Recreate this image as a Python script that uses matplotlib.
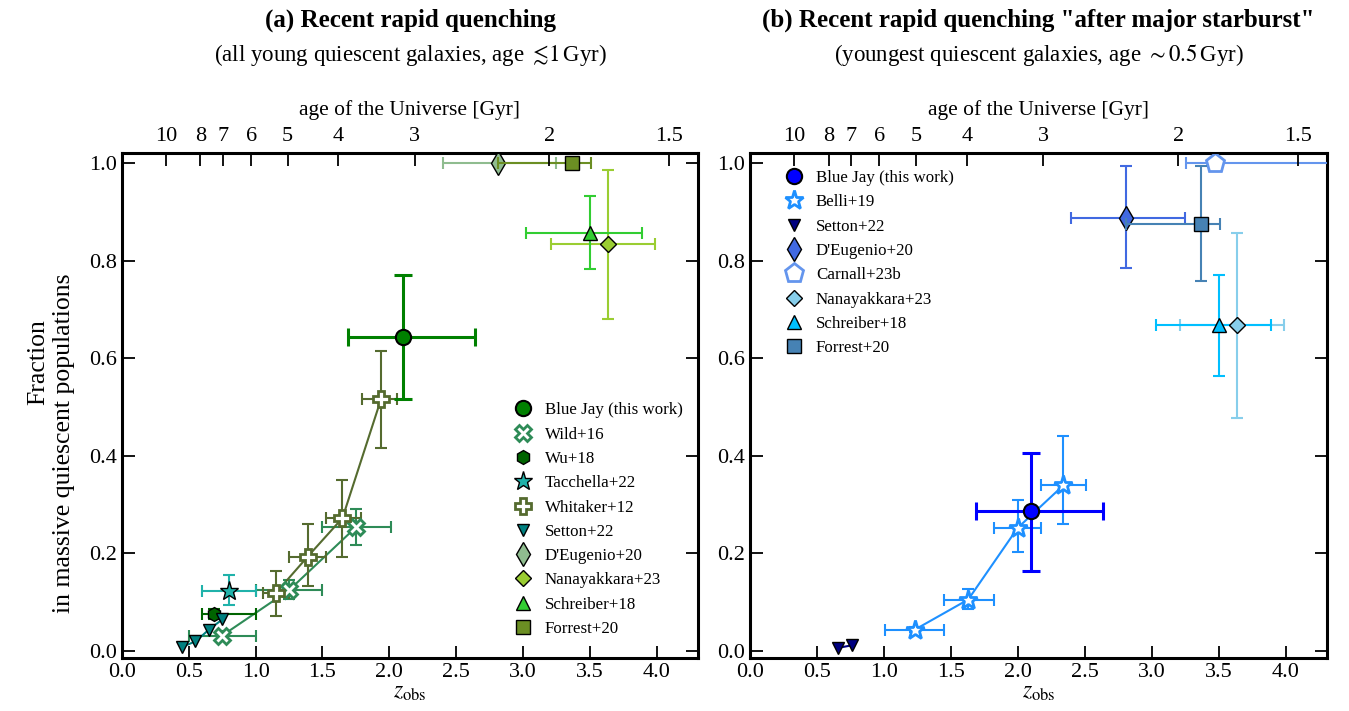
import numpy as np
import matplotlib
matplotlib.use('Agg')
import matplotlib.pyplot as plt
from matplotlib.lines import Line2D

plt.rcParams['font.family'] = ['Liberation Serif', 'DejaVu Serif']
plt.rcParams['mathtext.fontset'] = 'stix'

# ---- data: panel (a), all young quiescent galaxies ----
bj_a_z, bj_a_f = [2.10], [0.643]
bj_a_zerr = [[0.41], [0.54]]
bj_a_ferr = [[0.127], [0.128]]

wild_z = [0.75, 1.25, 1.75]
wild_f = [0.031, 0.124, 0.253]
wild_zerr = [[0.25, 0.25, 0.25], [0.25, 0.25, 0.26]]
wild_ferr = [[0.01, 0.018, 0.036], [0.01, 0.022, 0.037]]

wu_z, wu_f = [0.69], [0.075]
wu_zerr = [[0.09], [0.31]]
wu_ferr = [[0.01], [0.01]]

tac_z, tac_f = [0.80], [0.123]
tac_zerr = [[0.20], [0.20]]
tac_ferr = [[0.029], [0.033]]

whit_z = [1.15, 1.39, 1.65, 1.94]
whit_f = [0.118, 0.193, 0.272, 0.517]
whit_zerr = [[0.095, 0.14, 0.125, 0.145], [0.10, 0.14, 0.14, 0.12]]
whit_ferr = [[0.046, 0.06, 0.079, 0.101], [0.045, 0.067, 0.078, 0.098]]

set_a_z = [0.45, 0.55, 0.65, 0.75]
set_a_f = [0.008, 0.019, 0.043, 0.064]

deu_a_z, deu_a_f = [2.81], [1.0]
deu_a_zerr = [[0.41], [0.44]]

nan_a_z, nan_a_f = [3.64], [0.833]
nan_a_zerr = [[0.43], [0.35]]
nan_a_ferr = [[0.152], [0.152]]

sch_a_z, sch_a_f = [3.50], [0.857]
sch_a_zerr = [[0.48], [0.39]]
sch_a_ferr = [[0.075], [0.075]]

for_a_z, for_a_f = [3.37], [1.0]
for_a_zerr = [[0.56], [0.14]]

# ---- data: panel (b), youngest quiescent galaxies ----
bj_b_z, bj_b_f = [2.10], [0.286]
bj_b_zerr = [[0.41], [0.54]]
bj_b_ferr = [[0.122], [0.119]]

belli_z = [1.23, 1.63, 2.00, 2.34]
belli_f = [0.043, 0.105, 0.252, 0.339]
belli_zerr = [[0.22, 0.18, 0.18, 0.17], [0.22, 0.19, 0.17, 0.17]]
belli_ferr = [[0.005, 0.019, 0.05, 0.079], [0.005, 0.022, 0.058, 0.102]]

set_b_z = [0.66, 0.76]
set_b_f = [0.006, 0.011]

deu_b_z, deu_b_f = [2.81], [0.888]
deu_b_zerr = [[0.41], [0.44]]
deu_b_ferr = [[0.104], [0.105]]

car_z, car_f = [3.47], [1.0]
car_zerr = [[0.21], [1.5]]

nan_b_z, nan_b_f = [3.64], [0.667]
nan_b_zerr = [[0.43], [0.35]]
nan_b_ferr = [[0.19], [0.19]]

sch_b_z, sch_b_f = [3.50], [0.667]
sch_b_zerr = [[0.47], [0.39]]
sch_b_ferr = [[0.103], [0.103]]

for_b_z, for_b_f = [3.37], [0.875]
for_b_zerr = [[0.56], [0.14]]
for_b_ferr = [[0.118], [0.118]]

age_ticks = [10, 8, 7, 6, 5, 4, 3, 2, 1.5]


def z_from_age(t, H0=67.7, Om=0.31):
    # flat LCDM, age in Gyr
    OL = 1 - Om
    A = 2 / (3 * (H0 / 977.8) * np.sqrt(OL))
    B = np.sqrt(OL / Om)
    return (np.sinh(np.asarray(t) / A) / B) ** (-2 / 3) - 1


def point(ax, z, f, zerr=None, ferr=None, marker='o', color='k', face=None,
          ms=10, mew=1.0, line=False, lw=1.5, cap=4.5, label=None, zo=3):
    if zerr is not None or ferr is not None:
        ax.errorbar(z, f, xerr=zerr, yerr=ferr, fmt='none', ecolor=color,
                    elinewidth=lw, capsize=cap, capthick=lw, zorder=zo)
    if line:
        ax.plot(z, f, '-', color=color, lw=1.5, zorder=zo)
    fc = color if face is None else face
    ec = 'k' if face is None else color
    ax.plot(z, f, ls='none', marker=marker, ms=ms, mfc=fc, mec=ec, mew=mew,
            zorder=zo + 0.5)
    return Line2D([], [], ls='none', marker=marker, ms=ms, mfc=fc, mec=ec,
                  mew=mew, label=label)


fig = plt.figure(figsize=(13.49, 7.11), dpi=100)
axa = fig.add_axes([0.0904, 0.0745, 0.427, 0.710])
axb = fig.add_axes([0.556, 0.0745, 0.4277, 0.710])

h = []
h.append(point(axa, bj_a_z, bj_a_f, bj_a_zerr, bj_a_ferr, 'o', 'green',
               ms=11, mew=1.5, lw=2.2, cap=6.5, label='Blue Jay (this work)', zo=10))
h.append(point(axa, wild_z, wild_f, wild_zerr, wild_ferr, 'X', 'seagreen',
               face='white', ms=11, mew=2, line=True, label='Wild+16'))
h.append(point(axa, wu_z, wu_f, wu_zerr, wu_ferr, 'h', 'darkgreen',
               ms=10, label='Wu+18'))
h.append(point(axa, tac_z, tac_f, tac_zerr, tac_ferr, '*', 'lightseagreen',
               ms=14, label='Tacchella+22'))
h.append(point(axa, whit_z, whit_f, whit_zerr, whit_ferr, 'P', 'darkolivegreen',
               face='white', ms=11, mew=2, line=True, label='Whitaker+12'))
h.append(point(axa, set_a_z, set_a_f, None, None, 'v', 'teal',
               ms=9, line=True, label='Setton+22'))
h.append(point(axa, deu_a_z, deu_a_f, deu_a_zerr, None, 'd', 'darkseagreen',
               ms=12, label="D'Eugenio+20"))
h.append(point(axa, nan_a_z, nan_a_f, nan_a_zerr, nan_a_ferr, 'D', 'yellowgreen',
               ms=8, label='Nanayakkara+23'))
h.append(point(axa, sch_a_z, sch_a_f, sch_a_zerr, sch_a_ferr, '^', 'limegreen',
               ms=10, label='Schreiber+18'))
h.append(point(axa, for_a_z, for_a_f, for_a_zerr, None, 's', 'olivedrab',
               ms=10, label='Forrest+20', zo=4))
axa.legend(handles=h, loc='upper left', bbox_to_anchor=(0.655, 0.52),
           frameon=False, fontsize=12.2, handletextpad=0.3, labelspacing=0.49,
           borderaxespad=0)

h = []
h.append(point(axb, bj_b_z, bj_b_f, bj_b_zerr, bj_b_ferr, 'o', 'blue',
               ms=11, mew=1.5, lw=2.2, cap=6.5, label='Blue Jay (this work)', zo=10))
h.append(point(axb, belli_z, belli_f, belli_zerr, belli_ferr, '*', 'dodgerblue',
               face='white', ms=14, mew=2, line=True, label='Belli+19'))
h.append(point(axb, set_b_z, set_b_f, None, None, 'v', 'navy',
               ms=9, line=True, label='Setton+22'))
h.append(point(axb, deu_b_z, deu_b_f, deu_b_zerr, deu_b_ferr, 'd', 'royalblue',
               ms=12, label="D'Eugenio+20"))
h.append(point(axb, car_z, car_f, car_zerr, None, 'p', 'cornflowerblue',
               face='white', ms=14, mew=2, label='Carnall+23b'))
h.append(point(axb, nan_b_z, nan_b_f, nan_b_zerr, nan_b_ferr, 'D', 'skyblue',
               ms=8, label='Nanayakkara+23'))
h.append(point(axb, sch_b_z, sch_b_f, sch_b_zerr, sch_b_ferr, '^', 'deepskyblue',
               ms=10, label='Schreiber+18'))
h.append(point(axb, for_b_z, for_b_f, for_b_zerr, for_b_ferr, 's', 'steelblue',
               ms=10, label='Forrest+20', zo=4))
axb.legend(handles=h, loc='upper left', bbox_to_anchor=(0.035, 0.98),
           frameon=False, fontsize=12.2, handletextpad=0.3, labelspacing=0.49,
           borderaxespad=0)

for ax in (axa, axb):
    ax.set_xlim(0, 4.31)
    ax.set_ylim(-0.015, 1.02)
    ax.set_xticks(np.arange(0, 4.01, 0.5))
    ax.set_yticks(np.arange(0, 1.01, 0.2))
    ax.tick_params(direction='in', length=9, width=1.3, labelsize=16,
                   top=False, right=True)
    for s in ax.spines.values():
        s.set_linewidth(2.2)
    ax.set_xlabel(r'$z_{\rm obs}$', fontsize=17, labelpad=0)
    top = ax.twiny()
    top.set_xlim(ax.get_xlim())
    top.set_xticks(z_from_age(age_ticks))
    top.set_xticklabels(['%g' % a for a in age_ticks])
    top.tick_params(direction='in', length=9, width=1.3, labelsize=16, pad=5)
    top.set_xlabel('age of the Universe [Gyr]', fontsize=15.5, labelpad=9)

# y label: two lines, as laid out in the original
fig.text(0.0282, 0.491, 'Fraction', rotation=90, ha='center', va='center',
         fontsize=18.5)
fig.text(0.0474, 0.377, 'in massive quiescent populations', rotation=90,
         ha='center', va='center', fontsize=18.5)

fig.text(0.304, 0.962, '(a) Recent rapid quenching', ha='center',
         fontsize=18, fontweight='bold')
fig.text(0.304, 0.914,
         r'(all young quiescent galaxies, age $\lesssim\!1\,$Gyr)',
         ha='center', fontsize=16.5)
fig.text(0.770, 0.962, '(b) Recent rapid quenching "after major starburst"',
         ha='center', fontsize=18, fontweight='bold')
fig.text(0.770, 0.914,
         r'(youngest quiescent galaxies, age $\sim 0.5\,$Gyr)',
         ha='center', fontsize=16.5)

fig.savefig('out.png', dpi=100)
